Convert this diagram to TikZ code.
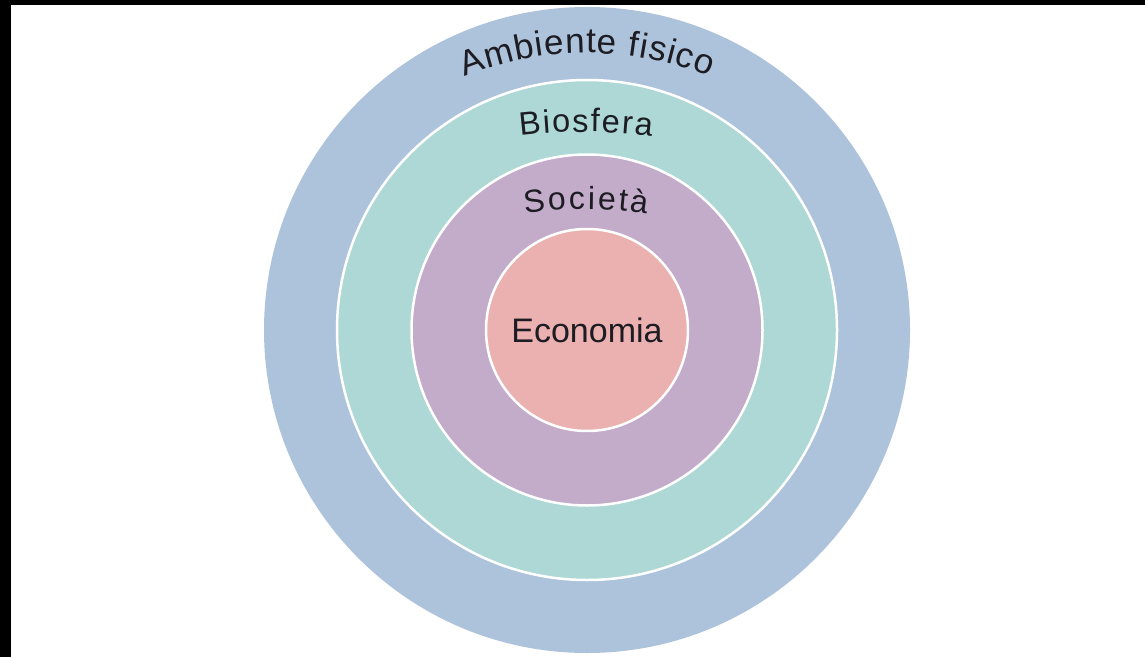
\documentclass[tikz,border=0pt]{standalone}
\usepackage{fontspec}
\setmainfont{Liberation Sans}
\usetikzlibrary{decorations.text}
\definecolor{ambc}{HTML}{ADC3DB}
\definecolor{bioc}{HTML}{ADD8D5}
\definecolor{socc}{HTML}{C3ABCA}
\definecolor{ecoc}{HTML}{EBB1B1}
\definecolor{txtc}{HTML}{1C1C22}
\tikzset{
  ring/.style={circle, inner sep=0pt, draw=white, line width=2.5pt},
  arclabel/.style={decorate, decoration={text along path, text align={fit to path}, text color=txtc, text={#1}}}
}
\begin{document}
\begin{tikzpicture}[x=1pt,y=1pt]
\useasboundingbox (0,0) rectangle (1145,657);
\fill[white] (0,0) rectangle (1145,657);
\node[circle, inner sep=0pt, fill=ambc, minimum size=646pt] (amb) at (587,327) {};
\node[ring, fill=bioc, minimum size=500pt] (bio) at (amb.center) {};
\node[ring, fill=socc, minimum size=351pt] (soc) at (amb.center) {};
\node[ring, fill=ecoc, minimum size=202pt, text=txtc, font=\fontsize{34}{40}\selectfont] (eco) at (amb.center) {Economia};
% curved labels
\coordinate (ambc) at (587,277);
\coordinate (bioctr) at (586,-15);
\coordinate (socctr) at (586,48);
\path[arclabel={|\fontsize{35}{42}\selectfont|Ambiente fisico}] (ambc) ++(112:327pt) arc[start angle=112, end angle=68, radius=327pt];
\path[arclabel={|\fontsize{32.5}{39}\selectfont|Biosfera}] (bioctr) ++(97:540pt) arc[start angle=97, end angle=83, radius=540pt];
\path[arclabel={|\fontsize{32}{38}\selectfont|Società}] (socctr) ++(98.8:400pt) arc[start angle=98.8, end angle=81.2, radius=400pt];
% black frame bands
\fill[black] (0,652) rectangle (1145,657);
\fill[black] (0,0) rectangle (11,657);
\end{tikzpicture}
\end{document}
